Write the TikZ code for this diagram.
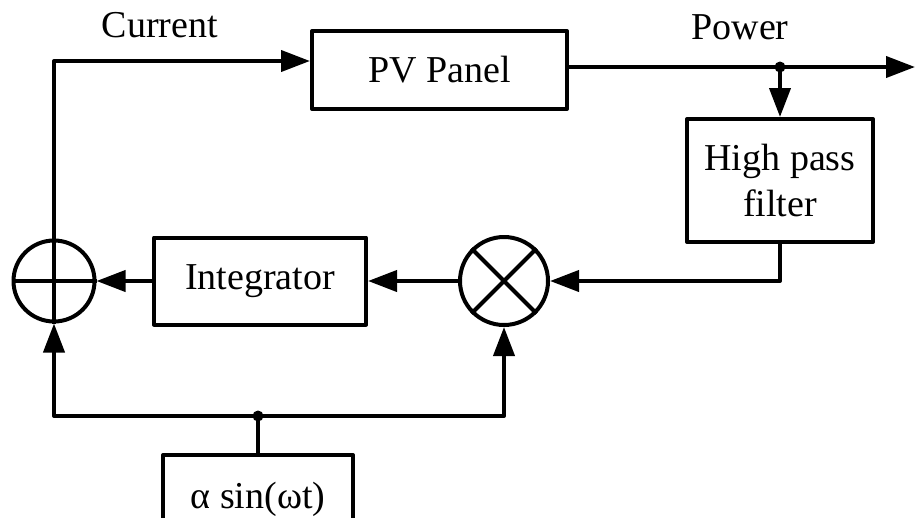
\documentclass[tikz,border=0pt]{standalone}
\usepackage{fontspec}
\setmainfont{Liberation Serif}
\usetikzlibrary{arrows.meta}
\begin{document}
\begin{tikzpicture}[x=1pt,y=-1pt,
  line width=4pt, line join=round,
  every node/.style={font=\fontsize{38}{44}\selectfont},
  blk/.style={draw, rectangle, inner sep=0pt, align=center},
  sumc/.style={draw, circle, inner sep=0pt},
  arr/.style={-{Triangle[length=29pt,width=21pt]}},
  dotn/.style={circle, fill, inner sep=0pt, minimum size=11pt}]
\useasboundingbox (0,0) rectangle (915,517);
\clip (0,0) rectangle (915,517);
% blocks
\node[blk, minimum width=255pt, minimum height=78pt] (pv) at (439.5,70) {PV Panel};
\node[blk, minimum width=186pt, minimum height=123pt, font=\fontsize{38}{46}\selectfont] (hpf) at (780,180.5) {High pass\\filter};
\node[blk, minimum width=212pt, minimum height=87pt] (integ) at (260,281) {Integrator};
\node[blk, minimum width=190pt, minimum height=88pt] (sinb) at (258,499) {α sin(ωt)};
\node[sumc, minimum size=81pt] (sum) at (54,281) {};
\node[sumc, minimum size=88pt] (mult) at (504,281) {};
% labels
\node (lcur) at (160,25) {Current};
\node (lpow) at (740,27) {Power};
% symbols
\draw (sum.north) -- (sum.south) (sum.west) -- (sum.east);
\draw (mult.north west) -- (mult.south east) (mult.north east) -- (mult.south west);
% junctions
\coordinate (j) at (780,67);
\coordinate (out) at (915,67);
\coordinate (jb) at (258,416);
\coordinate (cin) at (54,61);
\node[dotn] (jd) at (j) {};
\node[dotn] (jbd) at (jb) {};
% connectors
\draw[arr] (sum.north) -- (cin) -- ([yshift=9pt]pv.west);
\draw[arr] ([yshift=3pt]pv.east) -- (out);
\draw[arr] (j) -- (hpf.north);
\draw[arr] (hpf.south) |- (mult.east);
\draw[arr] (mult.west) -- (integ.east);
\draw[arr] (integ.west) -- (sum.east);
\draw (sinb.north) -- (jb);
\draw[arr] (jb) -| (sum.south);
\draw[arr] (jb) -| (mult.south);
\end{tikzpicture}
\end{document}
